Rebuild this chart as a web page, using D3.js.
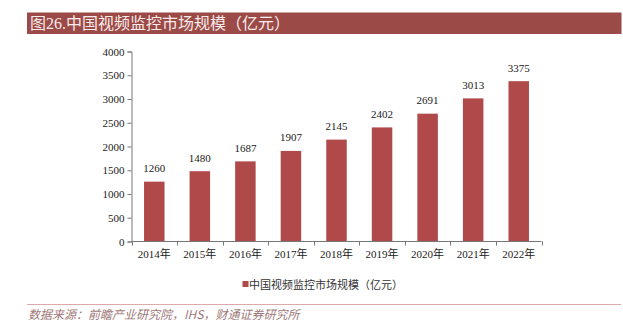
<!DOCTYPE html>
<html><head><meta charset="utf-8">
<script src="https://cdn.jsdelivr.net/npm/d3@7"></script>
<style>html,body{margin:0;padding:0;background:#fff;overflow:hidden}</style>
</head><body>
<script>
const title = "图26.中国视频监控市场规模（亿元）";
const categories = ["2014年","2015年","2016年","2017年","2018年","2019年","2020年","2021年","2022年"];
const values = [1260,1480,1687,1907,2145,2402,2691,3013,3375];
const yTicks = [0,500,1000,1500,2000,2500,3000,3500,4000];
const seriesName = "中国视频监控市场规模（亿元）";
const source = "数据来源：前瞻产业研究院，IHS，财通证券研究所";

const W = 623, H = 322;
const svg = d3.select("body").append("svg").attr("width", W).attr("height", H);
const serif = "'Liberation Serif','Times New Roman','Noto Sans CJK SC',serif";
const sans = "'Noto Sans CJK SC','Noto Sans',sans-serif";

// title bar
svg.append("rect").attr("x", 27).attr("y", 12.5).attr("width", 594.5).attr("height", 21.5).attr("fill", "#9c4a47");
svg.append("text").attr("x", 30).attr("y", 29).attr("fill", "#f6eaea")
  .style("font-family", serif).attr("font-size", 16).text(title);

const x = d3.scaleBand().domain(categories).range([131.5, 541.5]).paddingInner(0).paddingOuter(0);
const xb = d3.scaleBand().domain(categories).range([131.5, 541.5]).paddingInner(0.55).paddingOuter(0.275);
const y = d3.scaleLinear().domain([0, 4000]).range([241.5, 51.5]);

// bars
svg.selectAll("rect.bar").data(values).enter().append("rect").attr("class","bar")
  .attr("x", (d,i) => xb(categories[i])).attr("width", xb.bandwidth())
  .attr("y", d => y(d)).attr("height", d => y(0) - y(d)).attr("fill", "#b04a4a");

// value labels
svg.selectAll("text.val").data(values).enter().append("text").attr("class","val")
  .attr("x", (d,i) => xb(categories[i]) + xb.bandwidth()/2).attr("y", d => y(d) - 9.5)
  .attr("text-anchor","middle").style("font-family", serif).attr("font-size", 11).attr("fill","#222")
  .text(d => d);

// y axis
const yAxis = svg.append("g").attr("transform","translate(131.5,0)")
  .call(d3.axisLeft(y).tickValues(yTicks).tickFormat(d3.format("d")).tickSize(4).tickPadding(3));
yAxis.attr("font-family", null);
yAxis.select(".domain").attr("stroke","#777");
yAxis.selectAll(".tick line").attr("stroke","#777");
yAxis.selectAll("text").style("font-family", serif).style("font-size", "11px").attr("fill","#222");

// x axis line & ticks at band boundaries
const xg = svg.append("g");
xg.append("line").attr("x1", 131.5).attr("x2", 541.5).attr("y1", y(0)).attr("y2", y(0)).attr("stroke","#777");
const bounds = categories.map(c => x(c)).concat([x(categories[categories.length-1]) + x.bandwidth()]);
xg.selectAll("line.t").data(bounds).enter().append("line").attr("class","t")
  .attr("x1", d => Math.round(d)+0.5).attr("x2", d => Math.round(d)+0.5).attr("y1", y(0)).attr("y2", y(0)+4).attr("stroke","#777");
xg.selectAll("text").data(categories).enter().append("text")
  .attr("x", d => x(d) + x.bandwidth()/2).attr("y", 258).attr("text-anchor","middle")
  .style("font-family", serif).attr("font-size", 11).attr("fill","#222").text(d => d);

// legend
svg.append("rect").attr("x", 242.5).attr("y", 281).attr("width", 6).attr("height", 6).attr("fill","#b04a4a");
svg.append("text").attr("x", 249).attr("y", 288.5).style("font-family", sans).attr("font-size", 11)
  .attr("fill","#333").text(seriesName);

// source
svg.append("line").attr("x1", 27).attr("x2", 621).attr("y1", 304.5).attr("y2", 304.5).attr("stroke","#dcaaaa").attr("stroke-width",1.2);
svg.append("text").attr("x", 28).attr("y", 319).style("font-family", sans).attr("font-size", 12)
  .attr("fill","#a07878").attr("font-style","italic").text(source);
</script>
</body></html>
